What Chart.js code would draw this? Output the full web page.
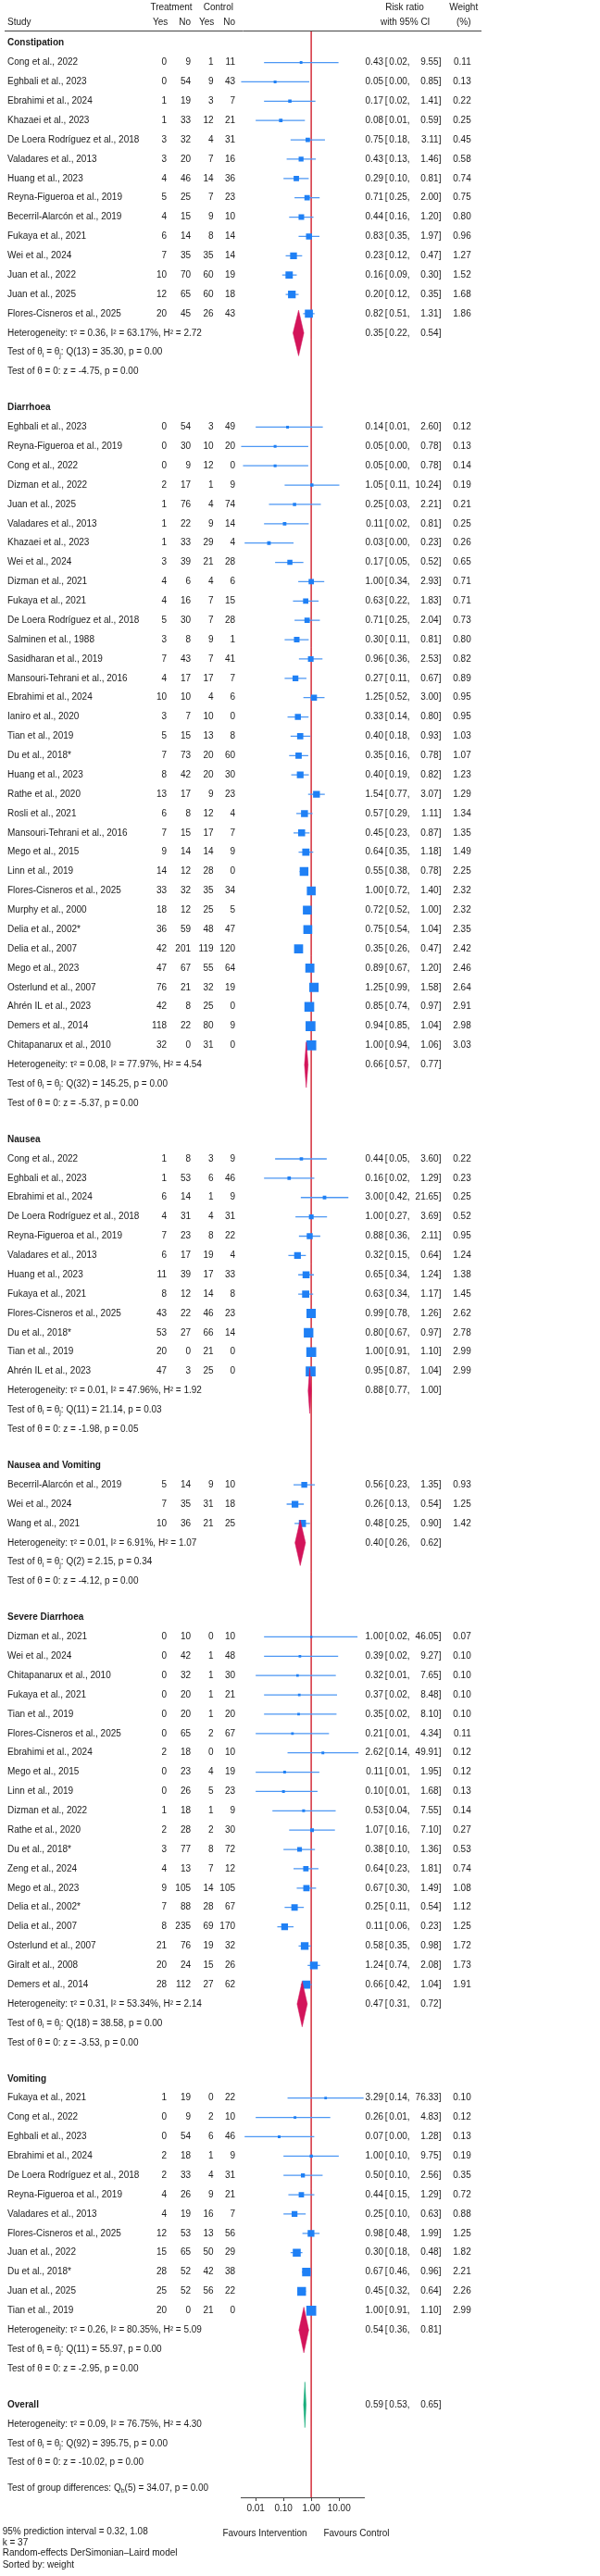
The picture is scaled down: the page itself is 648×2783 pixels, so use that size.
<!DOCTYPE html>
<html>
<head>
<meta charset="utf-8">
<script src="https://cdn.jsdelivr.net/npm/chart.js@4.4.0/dist/chart.umd.min.js"></script>
<style>
  html, body { margin: 0; padding: 0; background: #fff; }
  #wrap { width: 648px; height: 2783px; }
</style>
</head>
<body>
<div id="wrap"><canvas id="forest" width="648" height="2783"></canvas></div>
<script>
// ---- data ----
const groupNames = ['Constipation', 'Diarrhoea', 'Nausea', 'Nausea and Vomiting', 'Severe Diarrhoea', 'Vomiting'];
const groupSizes = [14, 33, 12, 3, 19, 12];

const studyNames = [
  // Constipation
  'Cong et al., 2022', 'Eghbali et al., 2023', 'Ebrahimi et al., 2024', 'Khazaei et al., 2023', 'De Loera Rodríguez et al., 2018',
  'Valadares et al., 2013', 'Huang et al., 2023', 'Reyna-Figueroa et al., 2019', 'Becerril-Alarcón et al., 2019', 'Fukaya et al., 2021',
  'Wei et al., 2024', 'Juan et al., 2022', 'Juan et al., 2025', 'Flores-Cisneros et al., 2025',
  // Diarrhoea
  'Eghbali et al., 2023', 'Reyna-Figueroa et al., 2019', 'Cong et al., 2022', 'Dizman et al., 2022', 'Juan et al., 2025',
  'Valadares et al., 2013', 'Khazaei et al., 2023', 'Wei et al., 2024', 'Dizman et al., 2021', 'Fukaya et al., 2021',
  'De Loera Rodríguez et al., 2018', 'Salminen et al., 1988', 'Sasidharan et al., 2019', 'Mansouri-Tehrani et al., 2016', 'Ebrahimi et al., 2024',
  'Ianiro et al., 2020', 'Tian et al., 2019', 'Du et al., 2018*', 'Huang et al., 2023', 'Rathe et al., 2020',
  'Rosli et al., 2021', 'Mansouri-Tehrani et al., 2016', 'Mego et al., 2015', 'Linn et al., 2019', 'Flores-Cisneros et al., 2025',
  'Murphy et al., 2000', 'Delia et al., 2002*', 'Delia et al., 2007', 'Mego et al., 2023', 'Osterlund et al., 2007',
  'Ahrén IL et al., 2023', 'Demers et al., 2014', 'Chitapanarux et al., 2010',
  // Nausea
  'Cong et al., 2022', 'Eghbali et al., 2023', 'Ebrahimi et al., 2024', 'De Loera Rodríguez et al., 2018', 'Reyna-Figueroa et al., 2019',
  'Valadares et al., 2013', 'Huang et al., 2023', 'Fukaya et al., 2021', 'Flores-Cisneros et al., 2025', 'Du et al., 2018*',
  'Tian et al., 2019', 'Ahrén IL et al., 2023',
  // Nausea and Vomiting
  'Becerril-Alarcón et al., 2019', 'Wei et al., 2024', 'Wang et al., 2021',
  // Severe Diarrhoea
  'Dizman et al., 2021', 'Wei et al., 2024', 'Chitapanarux et al., 2010', 'Fukaya et al., 2021', 'Tian et al., 2019',
  'Flores-Cisneros et al., 2025', 'Ebrahimi et al., 2024', 'Mego et al., 2015', 'Linn et al., 2019', 'Dizman et al., 2022',
  'Rathe et al., 2020', 'Du et al., 2018*', 'Zeng et al., 2024', 'Mego et al., 2023', 'Delia et al., 2002*',
  'Delia et al., 2007', 'Osterlund et al., 2007', 'Giralt et al., 2008', 'Demers et al., 2014',
  // Vomiting
  'Fukaya et al., 2021', 'Cong et al., 2022', 'Eghbali et al., 2023', 'Ebrahimi et al., 2024', 'De Loera Rodríguez et al., 2018',
  'Reyna-Figueroa et al., 2019', 'Valadares et al., 2013', 'Flores-Cisneros et al., 2025', 'Juan et al., 2022', 'Du et al., 2018*',
  'Juan et al., 2025', 'Tian et al., 2019'
];

const treatYes = [
  0, 0, 1, 1, 3, 3, 4, 5, 4, 6, 7, 10, 12, 20,
  0, 0, 0, 2, 1, 1, 1, 3, 4, 4, 5, 3, 7, 4, 10, 3, 5, 7, 8, 13, 6, 7, 9, 14, 33, 18, 36, 42, 47, 76, 42, 118, 32,
  1, 1, 6, 4, 7, 6, 11, 8, 43, 53, 20, 47,
  5, 7, 10,
  0, 0, 0, 0, 0, 0, 2, 0, 0, 1, 2, 3, 4, 9, 7, 8, 21, 20, 28,
  1, 0, 0, 2, 2, 4, 4, 12, 15, 28, 25, 20
];
const treatNo = [
  9, 54, 19, 33, 32, 20, 46, 25, 15, 14, 35, 70, 65, 45,
  54, 30, 9, 17, 76, 22, 33, 39, 6, 16, 30, 8, 43, 17, 10, 7, 15, 73, 42, 17, 8, 15, 14, 12, 32, 12, 59, 201, 67, 21, 8, 22, 0,
  8, 53, 14, 31, 23, 17, 39, 12, 22, 27, 0, 3,
  14, 35, 36,
  10, 42, 32, 20, 20, 65, 18, 23, 26, 18, 28, 77, 13, 105, 88, 235, 76, 24, 112,
  19, 9, 54, 18, 33, 26, 19, 53, 65, 52, 52, 0
];
const ctrlYes = [
  1, 9, 3, 12, 4, 7, 14, 7, 9, 8, 35, 60, 60, 26,
  3, 10, 12, 1, 4, 9, 29, 21, 4, 7, 7, 9, 7, 17, 4, 10, 13, 20, 20, 9, 12, 17, 14, 28, 35, 25, 48, 119, 55, 32, 25, 80, 31,
  3, 6, 1, 4, 8, 19, 17, 14, 46, 66, 21, 25,
  9, 31, 21,
  0, 1, 1, 1, 1, 2, 0, 4, 5, 1, 2, 8, 7, 14, 28, 69, 19, 15, 27,
  0, 2, 6, 1, 4, 9, 16, 13, 50, 42, 56, 21
];
const ctrlNo = [
  11, 43, 7, 21, 31, 16, 36, 23, 10, 14, 14, 19, 18, 43,
  49, 20, 0, 9, 74, 14, 4, 28, 6, 15, 28, 1, 41, 7, 6, 0, 8, 60, 30, 23, 4, 7, 9, 0, 34, 5, 47, 120, 64, 19, 0, 9, 0,
  9, 46, 9, 31, 22, 4, 33, 8, 23, 14, 0, 0,
  10, 18, 25,
  10, 48, 30, 21, 20, 67, 10, 19, 23, 9, 30, 72, 12, 105, 67, 170, 32, 26, 62,
  22, 10, 46, 9, 31, 21, 7, 56, 29, 38, 22, 0
];

const riskRatio = [
  0.43, 0.05, 0.17, 0.08, 0.75, 0.43, 0.29, 0.71, 0.44, 0.83, 0.23, 0.16, 0.20, 0.82,
  0.14, 0.05, 0.05, 1.05, 0.25, 0.11, 0.03, 0.17, 1.00, 0.63, 0.71, 0.30, 0.96, 0.27, 1.25, 0.33, 0.40, 0.35, 0.40, 1.54,
  0.57, 0.45, 0.64, 0.55, 1.00, 0.72, 0.75, 0.35, 0.89, 1.25, 0.85, 0.94, 1.00,
  0.44, 0.16, 3.00, 1.00, 0.88, 0.32, 0.65, 0.63, 0.99, 0.80, 1.00, 0.95,
  0.56, 0.26, 0.48,
  1.00, 0.39, 0.32, 0.37, 0.35, 0.21, 2.62, 0.11, 0.10, 0.53, 1.07, 0.38, 0.64, 0.67, 0.25, 0.11, 0.58, 1.24, 0.66,
  3.29, 0.26, 0.07, 1.00, 0.50, 0.44, 0.25, 0.98, 0.30, 0.67, 0.45, 1.00
];
// lower bounds printed as 0.00 are estimated from where the line starts
const ciLow = [
  0.02, 0.003, 0.02, 0.01, 0.18, 0.13, 0.10, 0.25, 0.16, 0.35, 0.12, 0.09, 0.12, 0.51,
  0.01, 0.003, 0.0035, 0.11, 0.03, 0.02, 0.004, 0.05, 0.34, 0.22, 0.25, 0.11, 0.36, 0.11, 0.52, 0.14, 0.18, 0.16, 0.19, 0.77,
  0.29, 0.23, 0.35, 0.38, 0.72, 0.52, 0.54, 0.26, 0.67, 0.99, 0.74, 0.85, 0.94,
  0.05, 0.02, 0.42, 0.27, 0.36, 0.15, 0.34, 0.34, 0.78, 0.67, 0.91, 0.87,
  0.23, 0.13, 0.25,
  0.02, 0.02, 0.01, 0.02, 0.02, 0.01, 0.14, 0.01, 0.01, 0.04, 0.16, 0.10, 0.23, 0.30, 0.11, 0.06, 0.35, 0.74, 0.42,
  0.14, 0.01, 0.004, 0.10, 0.10, 0.15, 0.10, 0.48, 0.18, 0.46, 0.32, 0.91
];
const ciHigh = [
  9.55, 0.85, 1.41, 0.59, 3.11, 1.46, 0.81, 2.00, 1.20, 1.97, 0.47, 0.30, 0.35, 1.31,
  2.60, 0.78, 0.78, 10.24, 2.21, 0.81, 0.23, 0.52, 2.93, 1.83, 2.04, 0.81, 2.53, 0.67, 3.00, 0.80, 0.93, 0.78, 0.82, 3.07,
  1.11, 0.87, 1.18, 0.78, 1.40, 1.00, 1.04, 0.47, 1.20, 1.58, 0.97, 1.04, 1.06,
  3.60, 1.29, 21.65, 3.69, 2.11, 0.64, 1.24, 1.17, 1.26, 0.97, 1.10, 1.04,
  1.35, 0.54, 0.90,
  46.05, 9.27, 7.65, 8.48, 8.10, 4.34, 49.91, 1.95, 1.68, 7.55, 7.10, 1.36, 1.81, 1.49, 0.54, 0.23, 0.98, 2.08, 1.04,
  76.33, 4.83, 1.28, 9.75, 2.56, 1.29, 0.63, 1.99, 0.48, 0.96, 0.64, 1.10
];
const weights = [
  0.11, 0.13, 0.22, 0.25, 0.45, 0.58, 0.74, 0.75, 0.80, 0.96, 1.27, 1.52, 1.68, 1.86,
  0.12, 0.13, 0.14, 0.19, 0.21, 0.25, 0.26, 0.65, 0.71, 0.71, 0.73, 0.80, 0.82, 0.89, 0.95, 0.95, 1.03, 1.07, 1.23, 1.29,
  1.34, 1.35, 1.49, 2.25, 2.32, 2.32, 2.35, 2.42, 2.46, 2.64, 2.91, 2.98, 3.03,
  0.22, 0.23, 0.25, 0.52, 0.95, 1.24, 1.38, 1.45, 2.62, 2.78, 2.99, 2.99,
  0.93, 1.25, 1.42,
  0.07, 0.10, 0.10, 0.10, 0.10, 0.11, 0.12, 0.12, 0.13, 0.14, 0.27, 0.53, 0.74, 1.08, 1.12, 1.25, 1.72, 1.73, 1.91,
  0.10, 0.12, 0.13, 0.19, 0.35, 0.72, 0.88, 1.25, 1.82, 2.21, 2.26, 2.99
];

// subgroup summaries
const groupRR = [0.35, 0.66, 0.88, 0.40, 0.47, 0.54];
const groupLow = [0.22, 0.57, 0.77, 0.26, 0.31, 0.36];
const groupHigh = [0.54, 0.77, 1.00, 0.62, 0.72, 0.81];
const groupTau2 = [0.36, 0.08, 0.01, 0.01, 0.31, 0.26];
const groupI2 = [63.17, 77.97, 47.96, 6.91, 53.34, 80.35];
const groupH2 = [2.72, 4.54, 1.92, 1.07, 2.14, 5.09];
const groupQ = [35.30, 145.25, 21.14, 2.15, 38.58, 55.97];
const groupQdf = [13, 32, 11, 2, 18, 11];
const groupQp = [0.00, 0.00, 0.03, 0.34, 0.00, 0.00];
const groupZ = [-4.75, -5.37, -1.98, -4.12, -3.53, -2.95];
const groupZp = [0.00, 0.00, 0.05, 0.00, 0.00, 0.00];

// overall
const overallEffect = [0.59, 0.53, 0.65];   // RR, low, high
const overallHet = [0.09, 76.75, 4.30];     // tau2, I2, H2
const overallQ = [92, 395.75, 0.00];        // df, Q, p
const overallZ = [-10.02, 0.00];            // z, p
const groupDiff = [5, 34.07, 0.00];         // df, Qb, p
const predInterval = [0.32, 1.08];
const kStudies = 37;

const xTicks = [0.01, 0.1, 1, 10];
const xMin = 0.0029, xMax = 80;

// ---- layout in row units ----
const ROW_GAP = 0.87;
const DIAMOND_H = 1.18;
const studyPos = [];
const titlePos = [];
const hetPos = [];
let pos = 0, idx = 0;
groupSizes.forEach((n) => {
  titlePos.push(pos); pos += 1;
  for (let k = 0; k < n; k++) { studyPos[idx++] = pos; pos += 1; }
  hetPos.push(pos);
  pos += 3 + ROW_GAP;
});
const overallPos = pos;
const yMin = -0.64, yMax = overallPos + 4.79;

const FONT = "'Liberation Sans', Arial, Helvetica, sans-serif";
const BLUE = '#1f80f5';
const CI_BLUE = '#4c97f4';
const RED = '#d9434f';
const CRIMSON = '#d3145a';
const GREEN = '#16ad7a';

// ---- datasets ----
const ciData = [];
studyNames.forEach((n, i) => {
  ciData.push({x: ciLow[i], y: studyPos[i]}, {x: ciHigh[i], y: studyPos[i]}, {x: ciHigh[i], y: null});
});
const markerData = riskRatio.map((v, i) => ({x: v, y: studyPos[i]}));
const markerRadius = weights.map(w => (1 + 5.6 * Math.sqrt(w)) / Math.SQRT2);

const diamond = (rr, lo, hi, y) => [
  {x: lo, y: y}, {x: rr, y: y - DIAMOND_H}, {x: hi, y: y}, {x: rr, y: y + DIAMOND_H}, {x: lo, y: y}
];

const datasets = [
  { type: 'line', data: [{x: 1, y: yMin}, {x: 1, y: yMax}], borderColor: RED, borderWidth: 1, pointRadius: 0, order: 10 },
  { type: 'line', data: ciData, borderColor: CI_BLUE, borderWidth: 1.3, pointRadius: 0, spanGaps: false, order: 5 },
  { type: 'line', data: markerData, showLine: false, pointStyle: 'rect', pointRadius: markerRadius,
    backgroundColor: BLUE, borderColor: BLUE, borderWidth: 0, order: 2 }
];
groupNames.forEach((g, gi) => {
  datasets.push({ type: 'line', data: diamond(groupRR[gi], groupLow[gi], groupHigh[gi], hetPos[gi]),
    fill: 'shape', backgroundColor: CRIMSON, borderColor: CRIMSON, borderWidth: 0.5, pointRadius: 0, tension: 0, order: 0 });
});
datasets.push({ type: 'line', data: diamond(overallEffect[0], overallEffect[1], overallEffect[2], overallPos),
  fill: 'shape', backgroundColor: GREEN, borderColor: GREEN, borderWidth: 0.5, pointRadius: 0, tension: 0, order: 0 });

// ---- text columns ----
const text = (ctx, s, x, y, align, opts) => {
  opts = opts || {};
  ctx.font = (opts.bold ? 'bold ' : '') + (opts.size || 10) + 'px ' + FONT;
  ctx.textAlign = align || 'left';
  ctx.fillText(s, x, y);
  return x + ctx.measureText(s).width;
};

const drawEffect = (ctx, y, rr, lo, hi) => {
  text(ctx, rr.toFixed(2), 414, y, 'right');
  text(ctx, '[', 415.8, y, 'left');
  text(ctx, lo.toFixed(2) + ',', 442.6, y, 'right');
  text(ctx, hi.toFixed(2), 473.6, y, 'right');
  text(ctx, ']', 473.8, y, 'left');
};

const drawHet = (ctx, y, tau2, i2, h2) => {
  text(ctx, 'Heterogeneity: τ² = ' + tau2.toFixed(2) + ', I² = ' + i2.toFixed(2) + '%, H² = ' + h2.toFixed(2), 8, y);
};

const drawQ = (ctx, y, df, q, p) => {
  let cx = text(ctx, 'Test of θ', 8, y);
  cx = text(ctx, 'i', cx, y + 3, 'left', {size: 7});
  cx = text(ctx, ' = θ', cx, y);
  cx = text(ctx, 'j', cx, y + 3, 'left', {size: 7});
  text(ctx, ': Q(' + df + ') = ' + q.toFixed(2) + ', p = ' + p.toFixed(2), cx, y);
};

const drawZ = (ctx, y, z, p) => {
  text(ctx, 'Test of θ = 0: z = ' + z.toFixed(2) + ', p = ' + p.toFixed(2), 8, y);
};

const forestText = {
  id: 'forestText',
  afterDraw(chart) {
    const ctx = chart.ctx;
    const ys = chart.scales.y;
    const py = v => ys.getPixelForValue(v);
    const bottom = chart.chartArea.bottom;
    ctx.save();
    ctx.fillStyle = '#1a1a1a';
    ctx.textBaseline = 'middle';

    // header
    text(ctx, 'Treatment', 185, 8, 'center');
    text(ctx, 'Control', 235.8, 8, 'center');
    text(ctx, 'Risk ratio', 437, 8, 'center');
    text(ctx, 'Weight', 500.7, 8, 'center');
    text(ctx, 'Study', 8, 24.7);
    text(ctx, 'Yes', 181.3, 24.7, 'right');
    text(ctx, 'No', 206, 24.7, 'right');
    text(ctx, 'Yes', 231.3, 24.7, 'right');
    text(ctx, 'No', 254, 24.7, 'right');
    text(ctx, 'with 95% CI', 437.7, 24.7, 'center');
    text(ctx, '(%)', 500.7, 24.7, 'center');
    ctx.strokeStyle = '#444';
    ctx.lineWidth = 1;
    ctx.beginPath();
    ctx.moveTo(5, 33.5);
    ctx.lineTo(520, 33.5);
    ctx.stroke();

    // studies
    studyNames.forEach((n, i) => {
      const y = py(studyPos[i]);
      text(ctx, n, 8, y);
      text(ctx, String(treatYes[i]), 180, y, 'right');
      text(ctx, String(treatNo[i]), 206, y, 'right');
      text(ctx, String(ctrlYes[i]), 230.5, y, 'right');
      text(ctx, String(ctrlNo[i]), 254, y, 'right');
      drawEffect(ctx, y, riskRatio[i], ciLow[i], ciHigh[i]);
      text(ctx, weights[i].toFixed(2), 508.7, y, 'right');
    });

    // subgroups
    groupNames.forEach((g, gi) => {
      text(ctx, g, 8, py(titlePos[gi]), 'left', {bold: true});
      const y = py(hetPos[gi]);
      drawHet(ctx, y, groupTau2[gi], groupI2[gi], groupH2[gi]);
      drawEffect(ctx, y, groupRR[gi], groupLow[gi], groupHigh[gi]);
      drawQ(ctx, py(hetPos[gi] + 1), groupQdf[gi], groupQ[gi], groupQp[gi]);
      drawZ(ctx, py(hetPos[gi] + 2), groupZ[gi], groupZp[gi]);
    });

    // overall
    text(ctx, 'Overall', 8, py(overallPos), 'left', {bold: true});
    drawEffect(ctx, py(overallPos), overallEffect[0], overallEffect[1], overallEffect[2]);
    drawHet(ctx, py(overallPos + 1), overallHet[0], overallHet[1], overallHet[2]);
    drawQ(ctx, py(overallPos + 2), overallQ[0], overallQ[1], overallQ[2]);
    drawZ(ctx, py(overallPos + 3), overallZ[0], overallZ[1]);
    const gy = py(overallPos + 4.3);
    let cx = text(ctx, 'Test of group differences: Q', 8, gy);
    cx = text(ctx, 'b', cx, gy + 3, 'left', {size: 7});
    text(ctx, '(' + groupDiff[0] + ') = ' + groupDiff[1].toFixed(2) + ', p = ' + groupDiff[2].toFixed(2), cx, gy);

    // axis captions
    text(ctx, 'Favours Intervention', 286, bottom + 39, 'center');
    text(ctx, 'Favours Control', 385, bottom + 39, 'center');

    // notes
    text(ctx, '95% prediction interval = ' + predInterval[0].toFixed(2) + ', ' + predInterval[1].toFixed(2), 2.7, bottom + 37.3);
    text(ctx, 'k = ' + kStudies, 2.7, bottom + 49);
    text(ctx, 'Random-effects DerSimonian–Laird model', 2.7, bottom + 60.7);
    text(ctx, 'Sorted by: weight', 2.7, bottom + 73.3);
    ctx.restore();
  }
};

new Chart(document.getElementById('forest'), {
  type: 'line',
  data: { datasets: datasets },
  options: {
    responsive: false,
    animation: false,
    devicePixelRatio: 1,
    layout: { padding: { left: 260, right: 254.7, top: 33.3, bottom: 65 } },
    plugins: { legend: { display: false }, tooltip: { enabled: false } },
    scales: {
      x: {
        type: 'logarithmic',
        min: xMin,
        max: xMax,
        afterBuildTicks: axis => { axis.ticks = xTicks.map(v => ({ value: v })); },
        ticks: {
          autoSkip: false, maxRotation: 0, padding: 2, color: '#1a1a1a',
          font: { size: 10, family: FONT },
          callback: v => Number(v).toFixed(2)
        },
        grid: { display: true, drawOnChartArea: false, drawTicks: true, tickLength: 4, color: '#444' },
        border: { display: true, color: '#444', width: 1 }
      },
      y: { type: 'linear', reverse: true, min: yMin, max: yMax, display: false }
    }
  },
  plugins: [forestText]
});
</script>
</body>
</html>
